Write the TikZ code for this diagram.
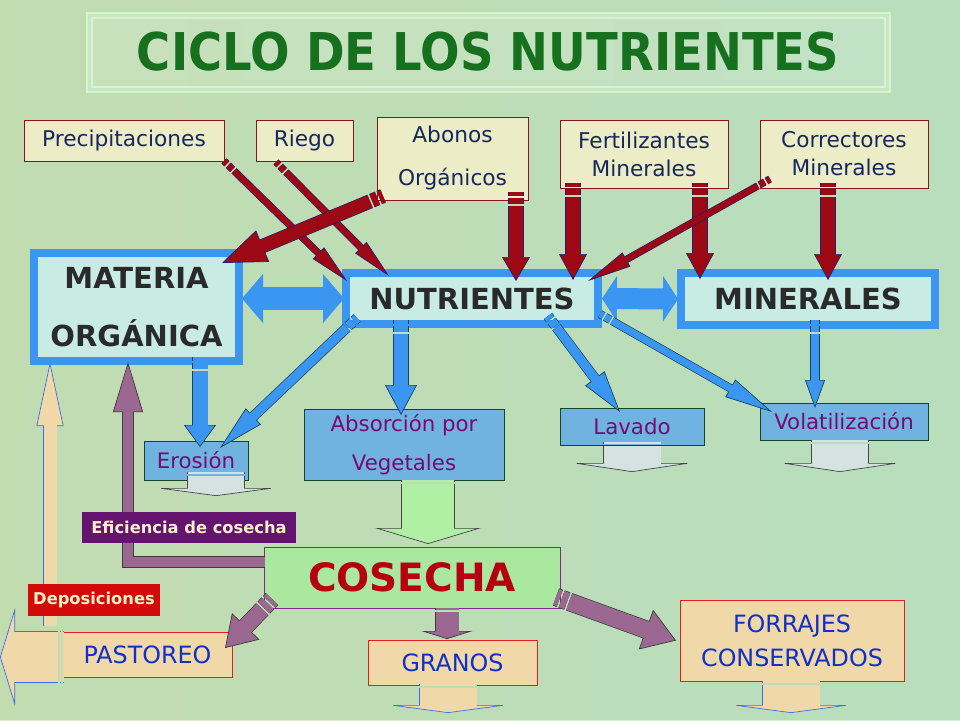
\documentclass[tikz,border=0pt]{standalone}
\usepackage{fontspec}
\usepackage{graphicx}
\setmainfont{DejaVu Sans}
\usetikzlibrary{arrows.meta,calc}
\definecolor{bgA}{RGB}{202,220,168}
\definecolor{bgB}{RGB}{184,222,190}
\definecolor{paleg}{RGB}{214,246,200}
\definecolor{titleg}{RGB}{22,112,30}
\definecolor{topfill}{RGB}{236,236,198}
\definecolor{tred}{RGB}{140,20,30}
\definecolor{tnavy}{RGB}{22,40,92}
\definecolor{bblue}{RGB}{58,150,240}
\definecolor{mofill}{RGB}{200,236,228}
\definecolor{tdark}{RGB}{42,42,42}
\definecolor{midfill}{RGB}{112,178,224}
\definecolor{dgreen}{RGB}{20,70,40}
\definecolor{tpurp}{RGB}{120,10,120}
\definecolor{cosfill}{RGB}{170,232,160}
\definecolor{cosline}{RGB}{130,40,140}
\definecolor{cosred}{RGB}{180,0,16}
\definecolor{tanf}{RGB}{240,216,168}
\definecolor{lred}{RGB}{230,30,30}
\definecolor{tblue}{RGB}{16,48,200}
\definecolor{efif}{RGB}{100,20,110}
\definecolor{depf}{RGB}{210,10,10}
\definecolor{cream}{RGB}{250,240,200}
\definecolor{arrred}{RGB}{156,8,20}
\definecolor{arrredo}{RGB}{40,30,110}
\definecolor{arrblue}{RGB}{58,150,240}
\definecolor{arrblueo}{RGB}{20,70,90}
\definecolor{arrpur}{RGB}{154,104,144}
\definecolor{arrpuro}{RGB}{60,60,60}
\definecolor{exgray}{RGB}{212,226,226}
\definecolor{exgrayo}{RGB}{70,70,70}
\definecolor{exgreen}{RGB}{176,240,164}
\definecolor{tano}{RGB}{60,110,240}
% #1 fill, #2 outline, #3 shaft width, #4 head width, #5 head length, #6 options, #7 path
\newcommand{\fatar}[7]{%
  \draw[draw=#2, line width=#3pt+1.4pt, line join=miter, #6,
        -{Triangle[width=#4pt, length=#5pt, line width=0.7pt, fill=#1]}] #7;
  \draw[draw=#1, line width=#3pt, line join=miter, #6, shorten >=#5pt-1.5pt] #7;}
\begin{document}
\begin{tikzpicture}[x=1pt,y=-1pt,
  every node/.style={inner sep=0pt, outer sep=0pt, align=center},
  topbox/.style={draw=tred, line width=0.9pt, fill=topfill, text=tnavy,
     font=\fontsize{21.7}{28}\selectfont},
  bigbox/.style={draw=bblue, line width=8pt, fill=mofill, text=tdark,
     font=\bfseries\fontsize{29}{58}\selectfont},
  midbox/.style={draw=dgreen, line width=0.9pt, fill=midfill, text=tpurp,
     font=\fontsize{21.3}{39}\selectfont},
  lowbox/.style={draw=lred, line width=0.9pt, fill=tanf, text=tblue,
     font=\fontsize{23.8}{34}\selectfont},
  labelbox/.style={text=cream, font=\bfseries\fontsize{16.3}{17}\selectfont},
  stripesA/.style={dash pattern=on 4pt off 2pt on 6pt off 2pt on 2000pt},
  stripesB/.style={dash pattern=on 2pt off 1.5pt on 2000pt},
  dblarrow/.style={draw=arrblue}
]
\useasboundingbox (0,0) rectangle (960,720);
% background
\fill[bgB] (0,0) rectangle (960,720);
\shade[left color=bgA, right color=bgB, opacity=0.6] (0,0) rectangle (960,720);
% title
\node[draw=paleg, line width=2pt, double=bgB!80!white, double distance=3pt,
      fill=white, fill opacity=0.12, text opacity=1,
      minimum width=798, minimum height=74] (tbox) at (488,52) {};
\node[text=titleg, font=\bfseries\fontsize{46.5}{50}\selectfont] (title) at (488,52)
  {\scalebox{1}[1.12]{CICLO DE LOS NUTRIENTES}};
% top boxes
\node[topbox, minimum width=200, minimum height=41] (prec) at (124,140.5) {Precipitaciones};
\node[topbox, minimum width=97, minimum height=41] (riego) at (304.5,140.5) {Riego};
\node[topbox, font=\fontsize{21.7}{43}\selectfont, minimum width=151, minimum height=83] (abon) at (452.5,158.5) {Abonos\\Orgánicos};
\node[topbox, minimum width=168, minimum height=68] (fert) at (644,154) {Fertilizantes\\Minerales};
\node[topbox, minimum width=168, minimum height=68] (corr) at (844,154) {Correctores\\Minerales};
% central boxes
\node[bigbox, minimum width=205, minimum height=108] (mo) at (136.5,307) {MATERIA\\ORGÁNICA};
\node[bigbox, minimum width=252, minimum height=51] (nut) at (472,298.5) {NUTRIENTES};
\node[bigbox, minimum width=254, minimum height=52] (min) at (808,299) {MINERALES};
% middle boxes
\node[midbox, minimum width=104, minimum height=39] (eros) at (196,460.5) {Erosión};
\node[midbox, minimum width=200, minimum height=71] (abs) at (404,444.5) {Absorción por\\Vegetales};
\node[midbox, minimum width=144, minimum height=37] (lav) at (632,426.5) {Lavado};
\node[midbox, minimum width=168, minimum height=37] (vol) at (844,421.5) {Volatilización};
% cosecha
\node[draw=cosline, line width=0.9pt, fill=cosfill, text=cosred,
      font=\bfseries\fontsize{39}{44}\selectfont,
      minimum width=296, minimum height=61] (cos) at (412,577.5) {COSECHA};
% lower boxes
\node[lowbox, minimum width=169, minimum height=45] (past) at (147.5,654.5) {PASTOREO};
\node[lowbox, minimum width=169, minimum height=45] (gran) at (452.5,662.5) {GRANOS};
\node[lowbox, minimum width=224, minimum height=81] (forr) at (792,640.5) {FORRAJES\\CONSERVADOS};

% ---- arrows behind labels
\fatar{arrpur}{arrpuro}{10}{30}{50}{}{($(cos.west)+(1,-15.5)$) -| ($(mo.south)+(-8.5,1)$)}
\fatar{tanf}{tano}{13}{27}{64}{}{($(mo.south west)+(16,265)$) -- ($(mo.south west)+(16,1)$)}
\fatar{tanf}{tano}{50}{98}{15}{dash pattern=on 1.5pt off 1.5pt on 1.5pt off 1.5pt on 2000pt}{($(past.west)+(1,2.5)$) -- ($(past.west)+(-63,2.5)$)}

% labels
\node[labelbox, fill=efif, minimum width=214, minimum height=31] (efi) at (189,527.5) {Eficiencia de cosecha};
\node[labelbox, fill=depf, minimum width=132, minimum height=32] (dep) at (94,600) {Deposiciones};

% ---- red input arrows
\fatar{arrred}{arrredo}{6}{16}{40}{stripesA}{(prec.south east) -- ($(nut.north west)+(1,8)$)}
\fatar{arrred}{arrredo}{6}{16}{40}{stripesA}{($(riego.south west)+(20,1)$) -- ($(nut.north west)+(43,3)$)}
\fatar{arrred}{arrredo}{13}{34}{44}{stripesA}{($(abon.south west)+(6,-4)$) -- ($(mo.north east)+(-17,10)$)}
\fatar{arrred}{arrredo}{14}{28}{24}{stripesA}{($(abon.south east)+(-12,-8)$) -- ($(nut.north west)+(170,8)$)}
\fatar{arrred}{arrredo}{14}{28}{26}{stripesA}{($(fert.south west)+(13,-5)$) -- ($(nut.north west)+(227,7)$)}
\fatar{arrred}{arrredo}{14}{28}{26}{stripesA}{($(fert.south east)+(-28,-5)$) -- ($(min.north west)+(19,6)$)}
\fatar{arrred}{arrredo}{6}{16}{44}{stripesA}{($(corr.south west)+(10,-9)$) -- ($(nut.north east)+(-10,8)$)}
\fatar{arrred}{arrredo}{14}{28}{26}{stripesA}{($(corr.south)+(-16,-5)$) -- ($(min.north west)+(147,7)$)}

% ---- double arrows
\draw[dblarrow, line width=23pt, {Triangle[width=48pt,length=21pt]}-{Triangle[width=48pt,length=21pt]}]
  ($(mo.east |- nut.west)+(3,0)$) -- ($(nut.west)+(-2,0)$);
\draw[dblarrow, line width=21pt, {Triangle[width=45pt,length=15pt]}-{Triangle[width=45pt,length=15pt]}]
  ($(nut.east)+(4,0)$) -- ($(min.west)+(-3,0)$);

% ---- blue output arrows
\fatar{arrblue}{arrblueo}{15}{32}{22}{stripesA}{($(mo.south)+(63.5,-4)$) -- ($(eros.north)+(4,6)$)}
\fatar{arrblue}{arrblueo}{9}{22}{46}{stripesA}{($(nut.south west)+(11,-6)$) -- ($(eros.north east)+(-28,7)$)}
\fatar{arrblue}{arrblueo}{14}{32}{30}{stripesA}{($(nut.south west)+(55,-4)$) -- ($(abs.north)+(-3,6)$)}
\fatar{arrblue}{arrblueo}{9}{24}{42}{stripesA}{($(nut.south west)+(202,-8)$) -- ($(lav.north west)+(60,4)$)}
\fatar{arrblue}{arrblueo}{7}{20}{48}{stripesA}{($(nut.south east)+(2,-10)$) -- ($(vol.north west)+(12,9)$)}
\fatar{arrblue}{arrblueo}{8}{20}{28}{stripesA}{($(min.south west)+(134,-5)$) -- ($(vol.north west)+(55,5)$)}

% ---- exit arrows
\fatar{exgray}{exgrayo}{56}{120}{8}{stripesB}{($(eros.south)+(20,-8)$) -- ($(eros.south)+(20,16)$)}
\fatar{exgray}{exgrayo}{57}{120}{9}{stripesB}{($(lav.south)+(0,-3)$) -- ($(lav.south)+(0,27)$)}
\fatar{exgray}{exgrayo}{56}{120}{9}{stripesB}{($(vol.south)+(-4,0)$) -- ($(vol.south)+(-4,32)$)}
\fatar{exgreen}{exgrayo}{52}{106}{16}{stripesB}{($(abs.south)+(24,0)$) -- ($(abs.south)+(24,64)$)}
\fatar{tanf}{tano}{57}{120}{8}{stripesB}{($(gran.south)+(-4.5,-1)$) -- ($(gran.south)+(-4.5,28)$)}
\fatar{tanf}{tano}{57}{120}{8}{stripesB}{($(forr.south)+(-1,0)$) -- ($(forr.south)+(-1,32)$)}

% ---- purple output arrows from cosecha
\fatar{arrpur}{arrpuro}{16}{38}{30}{stripesA}{($(cos.south west)+(8,-9)$) -- ($(past.north east)+(-7,16)$)}
\fatar{arrpur}{arrpuro}{23}{51}{8}{stripesB}{($(cos.south)+(35,0)$) -- ($(gran.north)+(-5.5,-1)$)}
\fatar{arrpur}{arrpuro}{17}{42}{32}{stripesA}{($(cos.south east)+(-4,-11)$) -- ($(forr.west)+(-4,0)$)}
\end{tikzpicture}
\end{document}
